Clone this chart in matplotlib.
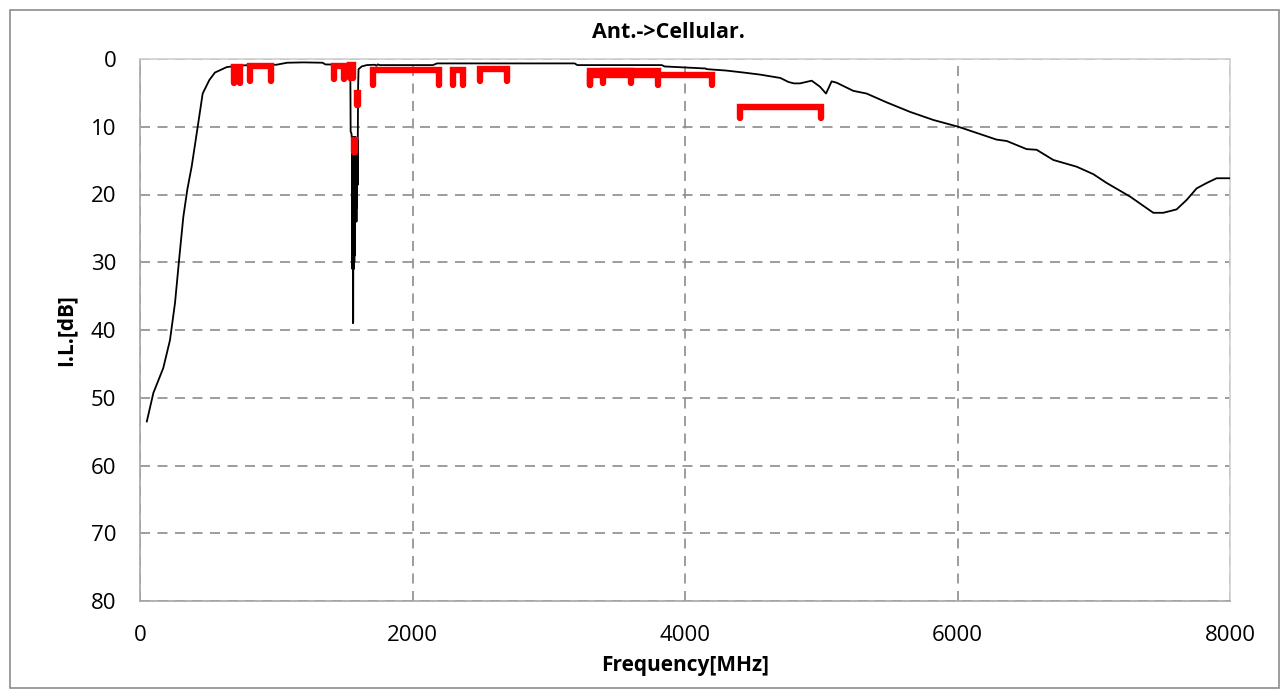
import matplotlib
matplotlib.use("Agg")
import matplotlib.pyplot as plt
from matplotlib.patches import Rectangle

# Measured insertion loss, Ant. -> Cellular path
freq_mhz = [50, 98, 171, 220, 257, 289, 318, 347, 379, 416, 460, 509, 550, 636,
            710, 800, 1000, 1080, 1200, 1340, 1360, 1500, 1530, 1540, 1544, 1546,
            1552, 1556, 1557, 1558, 1559, 1560, 1561, 1562, 1563, 1565, 1566, 1567,
            1568, 1569, 1570, 1571, 1572, 1573, 1574, 1575, 1576, 1577, 1578, 1579,
            1580, 1581, 1582, 1583, 1584, 1585, 1586, 1587, 1588, 1589, 1590, 1591,
            1592, 1593, 1594, 1595, 1596, 1597, 1599, 1601, 1604, 1627, 1664, 1725,
            1735, 1745, 1760, 2150, 2180, 3190, 3210, 3830, 3850, 4150, 4160, 4300,
            4430, 4550, 4700, 4760, 4800, 4844, 4930, 4991, 5035, 5076, 5113, 5235,
            5333, 5480, 5651, 5823, 6006, 6287, 6361, 6507, 6581, 6703, 6875, 6997,
            7095, 7266, 7437, 7510, 7608, 7682, 7755, 7829, 7902, 8000]
il_db = [53.5, 49.3, 45.6, 41.5, 36.0, 29.2, 23.3, 19.3, 15.9, 11.0, 5.1, 3.1, 2.0, 1.2,
         1.0, 0.9, 0.85, 0.55, 0.5, 0.55, 0.8, 0.85, 0.9, 0.95, 3.0, 10.7,
         11.0, 12.0, 30.0, 12.0, 31.0, 11.5, 25.0, 12.0, 39.0, 38.8, 13.0, 28.0,
         12.0, 31.0, 11.5, 26.0, 12.0, 30.0, 12.0, 24.0, 11.5, 29.0, 12.0, 22.0,
         12.0, 24.0, 11.5, 20.0, 12.0, 23.0, 12.0, 21.0, 12.5, 24.0, 12.0, 19.0,
         12.0, 22.0, 12.5, 18.0, 12.0, 18.6, 10.0, 4.0, 1.5, 1.1, 0.9, 0.85,
         1.0, 0.8, 0.9, 0.9, 0.65, 0.65, 0.9, 0.9, 1.1, 1.4, 1.5, 1.7,
         2.0, 2.3, 2.8, 3.4, 3.6, 3.6, 3.2, 4.1, 5.1, 3.3, 3.5, 4.7,
         5.1, 6.4, 7.8, 9.0, 10.0, 11.9, 12.1, 13.3, 13.4, 14.9, 15.9, 17.0,
         18.3, 20.3, 22.7, 22.7, 22.2, 20.8, 19.1, 18.3, 17.6, 17.6]

# Band limit brackets: start, stop, top level, leg end level
band_start = [688, 810, 1427, 1540, 1570, 1593, 1710, 2300, 2496, 3300, 3400, 3300, 4400]
band_stop = [731, 958, 1495, 1560, 1577, 1602, 2195, 2370, 2690, 3800, 3600, 4200, 5000]
band_top = [1.25, 1.0, 1.0, 0.9, 11.9, 5.0, 1.6, 1.6, 1.5, 1.8, 1.8, 2.4, 7.1]
band_leg = [3.5, 3.3, 2.9, 2.8, 13.7, 6.8, 3.8, 3.8, 3.2, 3.9, 3.6, 3.9, 8.7]

x_ticks = [0, 2000, 4000, 6000, 8000]
y_ticks = [0, 10, 20, 30, 40, 50, 60, 70, 80]

plt.rcParams['font.family'] = ['Open Sans', 'DejaVu Sans']

fig = plt.figure(figsize=(12.86, 6.91), dpi=100)
ax = fig.add_axes([140 / 1286, 90 / 691, 1090 / 1286, 542 / 691])

# outer chart border
fig.patches.append(Rectangle((10 / 1286, 3 / 691), 1269 / 1286, 678 / 691,
                             transform=fig.transFigure, fill=False,
                             edgecolor='#8c8c8c', linewidth=1.2))

ax.plot(freq_mhz, il_db, color='black', linewidth=1.3, zorder=3)

for s, e, t, b in zip(band_start, band_stop, band_top, band_leg):
    ax.plot([s, s, e, e], [b, t, t, b], color='#ff0000', linewidth=4.6,
            solid_capstyle='round', solid_joinstyle='miter', zorder=4)

ax.set_xlim(0, 8000)
ax.set_ylim(80, 0)
ax.set_xticks(x_ticks)
ax.set_yticks(y_ticks)
ax.tick_params(length=0, labelsize=16, pad=17)
ax.grid(True, color='#8c8c8c', linestyle=(0, (6, 4.5)), linewidth=1.2)
ax.set_axisbelow(True)
for side in ['left', 'bottom']:
    ax.spines[side].set_color('#a6a6a6')
for side in ['top', 'right']:
    ax.spines[side].set_color('#d0d0d0')
for sp in ax.spines.values():
    sp.set_linewidth(1.2)

ax.set_title('Ant.->Cellular.', fontsize=15.5, fontweight='bold', pad=15, x=0.4844)
ax.set_xlabel('Frequency[MHz]', fontsize=15, fontweight='bold', labelpad=7)
ax.set_ylabel('I.L.[dB]', fontsize=15, fontweight='bold', labelpad=10)

fig.savefig('out.png', dpi=100)
